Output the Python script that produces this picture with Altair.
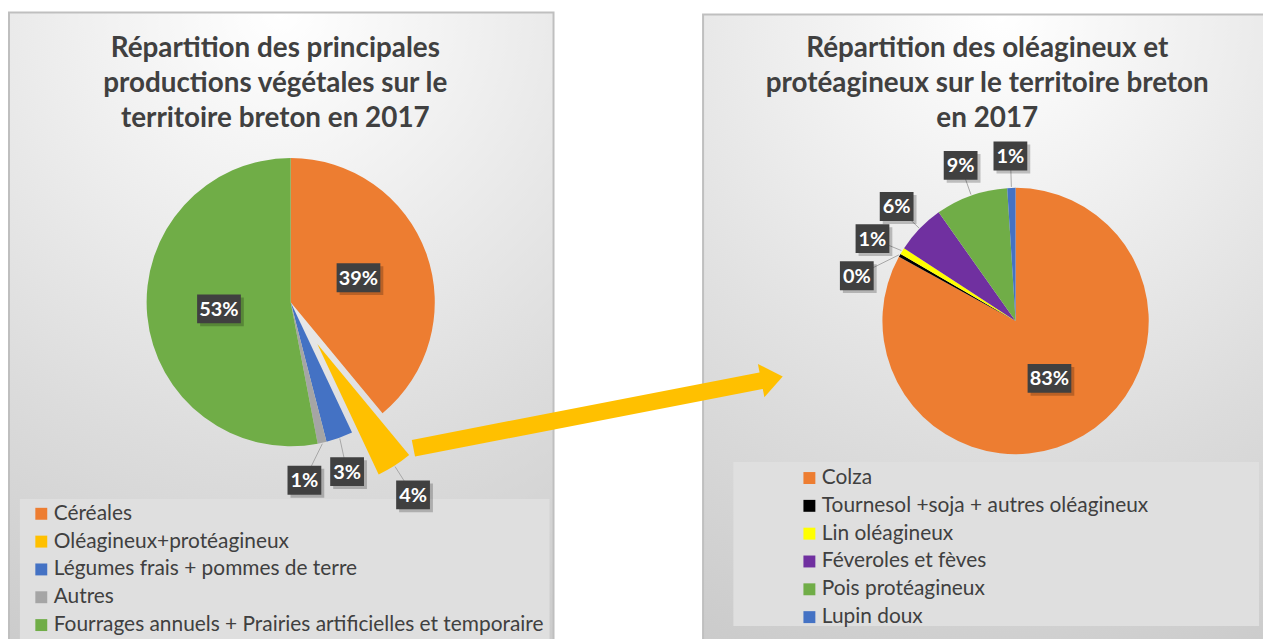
import math
import altair as alt
import numpy as np
import pandas as pd

# ---------------- data ----------------
left_title = ["Répartition des principales", "productions végétales sur le", "territoire breton en 2017"]
left_categories = ["Céréales", "Oléagineux+protéagineux", "Légumes frais + pommes de terre",
                   "Autres", "Fourrages annuels + Prairies artificielles et temporaire"]
left_values = [39, 4, 3, 1, 53]
left_colors = ["#ED7D31", "#FFC000", "#4472C4", "#A5A5A5", "#70AD47"]
left_exploded = "Oléagineux+protéagineux"

right_title = ["Répartition des oléagineux et", "protéagineux sur le territoire breton", "en 2017"]
right_categories = ["Colza", "Tournesol +soja + autres oléagineux", "Lin oléagineux",
                    "Féveroles et fèves", "Pois protéagineux", "Lupin doux"]
right_values = [83, 0.4, 0.8, 6, 8.8, 1]
right_colors = ["#ED7D31", "#000000", "#FFFF00", "#7030A0", "#70AD47", "#4472C4"]

# ---------------- layout ----------------
W, H = 1263, 631
FONT = "Lato"
TXT = "#404040"
L_CX, L_CY, L_R = 284.5, 294.0, 145.0
R_CX, R_CY, R_R = 1014.0, 313.0, 134.0
EXPLODE = 50.0
SEP = 14.0


def pie_layout(cats, vals, cx, cy, R, exploded=None, off=0.0):
    total = float(sum(vals))
    fr = np.array([v / total for v in vals])
    t1 = np.cumsum(fr)
    t0 = t1 - fr
    mid = (t0 + t1) / 2
    ang = mid * 360.0
    rad = mid * 2 * math.pi
    ccx = np.array([cx + (off * math.sin(r) if c == exploded else 0) for c, r in zip(cats, rad)])
    ccy = np.array([cy - (off * math.cos(r) if c == exploded else 0) for c, r in zip(cats, rad)])
    outside = fr <= 0.2
    lab = ang.copy()
    placed = []
    for i in sorted(range(len(cats)), key=lambda k: -fr[k]):
        if not outside[i]:
            continue
        a = ang[i]
        for _ in range(20):
            clash = [p for p in placed if abs(a - p) < SEP - 1e-9]
            if not clash:
                break
            p = clash[0]
            a = p + SEP if ang[i] >= p else p - SEP
        placed.append(a)
        lab[i] = a
    lr = np.where(outside, 1.24 * R, 0.5 * R)
    lrad = np.radians(lab)
    lx = ccx + lr * np.sin(lrad)
    ly = ccy - lr * np.cos(lrad)
    texts = [f"{f:.0%}" for f in fr]
    bw = np.array([10 * len(t) + 14 for t in texts])
    arcs = pd.DataFrame({"cat": cats, "t0": t0, "t1": t1, "cx": ccx, "cy": ccy})
    labels = pd.DataFrame({
        "frac": fr, "lx": lx, "ly": ly,
        "bx1": lx - bw / 2, "bx2": lx + bw / 2, "by1": ly - 14.5, "by2": ly + 14.5,
        "sx1": lx - bw / 2 + 3, "sx2": lx + bw / 2 + 3, "sy1": ly - 11.5, "sy2": ly + 17.5,
        "ex": ccx + (R + 1) * np.sin(rad), "ey": ccy - (R + 1) * np.cos(rad),
        "outside": outside,
    })
    return arcs, labels


l_arcs, l_labels = pie_layout(left_categories, left_values, L_CX, L_CY, L_R, left_exploded, EXPLODE)
r_arcs, r_labels = pie_layout(right_categories, right_values, R_CX, R_CY, R_R)

theta_scale = alt.Scale(domain=[0, 1], range=[0, 2 * math.pi])


def X(f):
    return alt.X(f, type="quantitative", scale=None, axis=None)


def Y(f):
    return alt.Y(f, type="quantitative", scale=None, axis=None)


one = pd.DataFrame({"k": [0]})

grad = alt.RadialGradient(
    gradient="radial", x1=0.5, y1=0.0, r1=0.0, x2=0.5, y2=0.0, r2=1.0,
    stops=[alt.GradientStop(offset=0, color="#ffffff"),
           alt.GradientStop(offset=0.3, color="#efefef"),
           alt.GradientStop(offset=0.65, color="#dcdcdc"),
           alt.GradientStop(offset=1, color="#cbcbcb")])


def panel(x1, y1, x2, y2):
    return alt.Chart(one).mark_rect(color=grad, stroke="#bfbfbf", strokeWidth=2).encode(
        x=alt.value(x1), x2=alt.value(x2), y=alt.value(y1), y2=alt.value(y2))


def legend_box(x1, y1, x2, y2):
    return alt.Chart(one).mark_rect(color="#dfdfdf").encode(
        x=alt.value(x1), x2=alt.value(x2), y=alt.value(y1), y2=alt.value(y2))


def title(lines, xc, y0, lh=35.5):
    df = pd.DataFrame({"t": lines, "y": [y0 + i * lh for i in range(len(lines))]})
    return alt.Chart(df).mark_text(font=FONT, fontSize=28, fontWeight="bold", color=TXT,
                                   align="center", baseline="middle").encode(
        x=alt.value(xc), y=Y("y"), text="t:N")


def arcs_layer(df, cats, colors, R, lx, ly):
    return alt.Chart(df).mark_arc(radius=R, strokeWidth=0).encode(
        theta=alt.Theta("t0:Q", scale=theta_scale),
        theta2="t1:Q",
        x=X("cx"), y=Y("cy"),
        color=alt.Color("cat:N", scale=alt.Scale(domain=cats, range=colors),
                        legend=alt.Legend(orient="none", legendX=lx, legendY=ly, title=None,
                                          symbolType="square", symbolSize=144,
                                          symbolStrokeWidth=0, symbolOpacity=1,
                                          labelFont=FONT, labelFontSize=21, labelColor=TXT,
                                          labelOffset=2, labelLimit=800, rowPadding=6.0,
                                          padding=0)),
    )


def label_layers(df):
    base = alt.Chart(df)
    leader = base.transform_filter("datum.outside").mark_rule(color="#a6a6a6", strokeWidth=1).encode(
        x=X("ex"), y=Y("ey"), x2="lx:Q", y2="ly:Q")
    shadow = base.mark_rect(color="#000000", opacity=0.22).encode(
        x=X("sx1"), x2="sx2:Q", y=Y("sy1"), y2="sy2:Q")
    box = base.mark_rect(color="#404040").encode(
        x=X("bx1"), x2="bx2:Q", y=Y("by1"), y2="by2:Q")
    txt = base.mark_text(font=FONT, fontSize=20, fontWeight="bold", color="#ffffff",
                         align="center", baseline="middle", dy=1).encode(
        x=X("lx"), y=Y("ly"), text=alt.Text("frac:Q", format=".0%"))
    return [leader, shadow, box, txt]


# arrow (decorative annotation)
tail = (408.0, 441.0)
head_base = (758.0, 373.0)
dx, dy = head_base[0] - tail[0], head_base[1] - tail[1]
ln = math.hypot(dx, dy)
ux, uy = dx / ln, dy / ln
arrow_df = pd.DataFrame({"x": [tail[0], head_base[0] + ux], "y": [tail[1], head_base[1] + uy], "o": [0, 1]})
arrow_line = alt.Chart(arrow_df).mark_line(color="#FFC000", strokeWidth=17, strokeCap="butt").encode(
    x=X("x"), y=Y("y"), order="o:O")
head_df = pd.DataFrame({"x": [head_base[0] + 11 * ux], "y": [head_base[1] + 11 * uy]})
head_angle = (math.degrees(math.atan2(uy, ux)) + 360) % 360
arrow_head = alt.Chart(head_df).mark_point(
    shape="M-0.65,-1 L0.65,0 L-0.65,1 Z", filled=True, color="#FFC000", opacity=1,
    size=34 * 34, angle=head_angle, strokeWidth=0).encode(x=X("x"), y=Y("y"))

layers = [
    panel(1, 2.5, 549, 700),
    panel(699.5, 4.5, 1300, 700),
    legend_box(12, 492, 545, 700),
    legend_box(730, 455, 1259, 620),
    title(left_title, 269, 39),
    title(right_title, 985.5, 39),
    arcs_layer(l_arcs, left_categories, left_colors, L_R, 23, 496.5),
    arcs_layer(r_arcs, right_categories, right_colors, R_R, 796, 460.5),
    arrow_line,
    arrow_head,
] + label_layers(l_labels) + label_layers(r_labels)

chart = alt.layer(*layers).resolve_scale(color="independent").resolve_legend(color="independent").properties(
    width=W, height=H, autosize=alt.AutoSizeParams(type="none"), padding=0, background="#ffffff"
).configure_view(stroke=None)

chart.save("out.html", embed_options={"renderer": "svg", "actions": False})
